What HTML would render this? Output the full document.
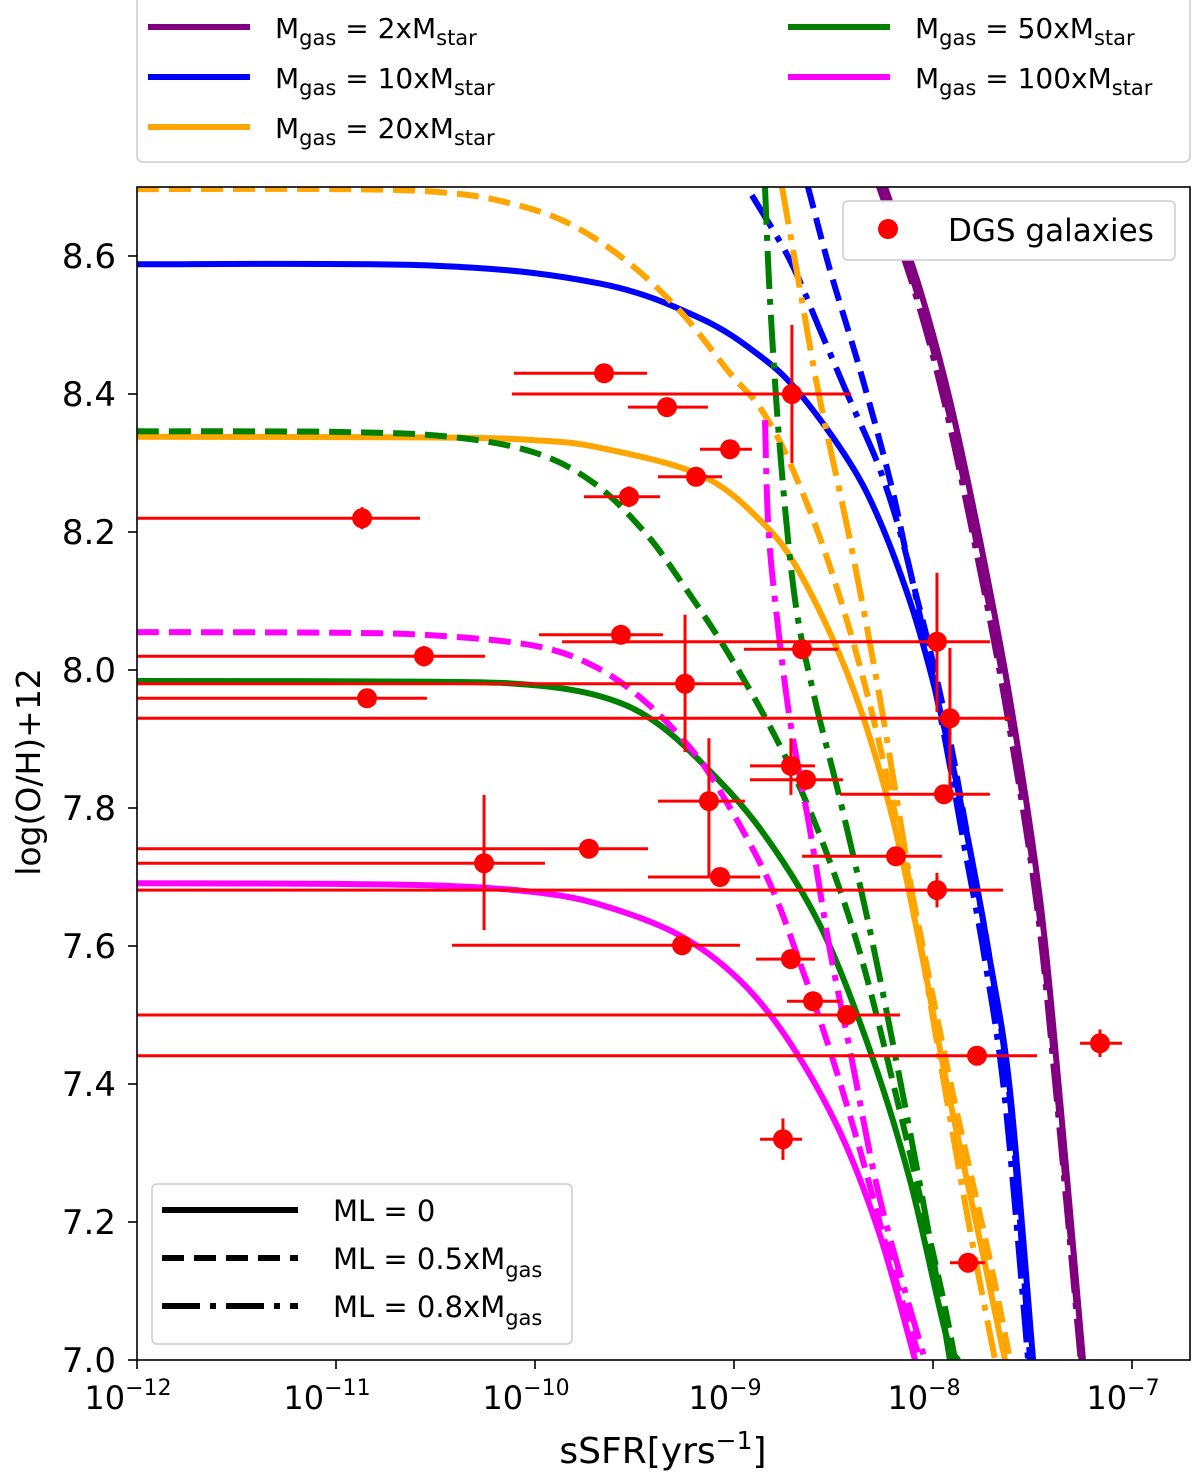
<!DOCTYPE html>
<html><head><meta charset="utf-8">
<style>
html,body{margin:0;padding:0;background:#fff;}
svg{display:block;font-family:"DejaVu Sans","Liberation Sans",sans-serif;}
</style></head>
<body>
<svg id="chart" width="1200" height="1480" viewBox="0 0 1200 1480">
<defs><clipPath id="plotclip"><rect x="137" y="187" width="1053" height="1173"/></clipPath></defs>
<g id="curves" clip-path="url(#plotclip)"></g>
<g id="points" clip-path="url(#plotclip)"></g>
<rect x="137" y="187" width="1053" height="1173" fill="none" stroke="#000" stroke-width="1.6"/>
<g id="axes"></g>
<text x="663" y="1463" text-anchor="middle" font-size="36">sSFR[yrs<tspan dy="-14" font-size="25">−1</tspan><tspan dy="14">]</tspan></text>
<text transform="translate(40,772) rotate(-90)" text-anchor="middle" font-size="33">log(O/H)+12</text>

<g>
<rect x="137" y="-6" width="1053" height="168" rx="6" fill="#fff" stroke="#ccc" stroke-width="1.5"/>
<line x1="148" y1="27" x2="250" y2="27" stroke="#800080" stroke-width="6"/>
<text x="275" y="38" font-size="28">M<tspan font-size="21" dy="7">gas</tspan><tspan dy="-7"> = 2xM</tspan><tspan font-size="21" dy="7">star</tspan></text>
<line x1="148" y1="77" x2="250" y2="77" stroke="#0000ff" stroke-width="6"/>
<text x="275" y="88" font-size="28">M<tspan font-size="21" dy="7">gas</tspan><tspan dy="-7"> = 10xM</tspan><tspan font-size="21" dy="7">star</tspan></text>
<line x1="148" y1="127" x2="250" y2="127" stroke="#ffa500" stroke-width="6"/>
<text x="275" y="138" font-size="28">M<tspan font-size="21" dy="7">gas</tspan><tspan dy="-7"> = 20xM</tspan><tspan font-size="21" dy="7">star</tspan></text>
<line x1="788" y1="27" x2="890" y2="27" stroke="#008000" stroke-width="6"/>
<text x="915" y="38" font-size="28">M<tspan font-size="21" dy="7">gas</tspan><tspan dy="-7"> = 50xM</tspan><tspan font-size="21" dy="7">star</tspan></text>
<line x1="788" y1="77" x2="890" y2="77" stroke="#ff00ff" stroke-width="6"/>
<text x="915" y="88" font-size="28">M<tspan font-size="21" dy="7">gas</tspan><tspan dy="-7"> = 100xM</tspan><tspan font-size="21" dy="7">star</tspan></text>
</g>

<g>
<rect x="843" y="201" width="332" height="59" rx="5" fill="#fff" stroke="#ccc" stroke-width="1.5"/>
<circle cx="888" cy="229" r="10" fill="#ff0000"/>
<text x="948" y="241" font-size="31">DGS galaxies</text>
</g>

<g>
<rect x="152" y="1184" width="420" height="160" rx="5" fill="#fff" stroke="#ccc" stroke-width="1.5"/>
<line x1="162" y1="1210" x2="298" y2="1210" stroke="#000" stroke-width="6"/>
<text x="333" y="1221" font-size="29">ML = 0</text>
<line x1="162" y1="1258" x2="298" y2="1258" stroke="#000" stroke-width="6" stroke-dasharray="22,10"/>
<text x="333" y="1269" font-size="29">ML = 0.5xM<tspan font-size="21" dy="8">gas</tspan></text>
<line x1="162" y1="1306" x2="298" y2="1306" stroke="#000" stroke-width="6" stroke-dasharray="38,10,6,10"/>
<text x="333" y="1317" font-size="29">ML = 0.8xM<tspan font-size="21" dy="8">gas</tspan></text>
</g>
</svg>
<script>
// ---- data: x values are log10(sSFR), y values are log(O/H)+12 ----
const xTicks = [-12, -11, -10, -9, -8, -7];
const yTicks = [7.0, 7.2, 7.4, 7.6, 7.8, 8.0, 8.2, 8.4, 8.6];
const curveNames = ["purple-solid","purple-dash","purple-dashdot","blue-solid","blue-dash","blue-dashdot","orange-solid","orange-dash","orange-dashdot","green-solid","green-dash","green-dashdot","magenta-solid","magenta-dash","magenta-dashdot"];
const purpleSolid = [[-8.241,8.70],[-8.065,8.551],[-7.915,8.391],[-7.764,8.188],[-7.613,7.957],[-7.462,7.667],[-7.362,7.377],[-7.246,7.0]];
const purpleDash = [[-8.261,8.70],[-8.085,8.551],[-7.935,8.391],[-7.784,8.188],[-7.630,7.957],[-7.475,7.667],[-7.372,7.377],[-7.254,7.0]];
const purpleDashDot = [[-8.271,8.70],[-8.095,8.551],[-7.945,8.391],[-7.794,8.188],[-7.640,7.957],[-7.482,7.667],[-7.378,7.377],[-7.258,7.0]];
const blueSolid = [[-12,8.588],[-10.5,8.586],[-9.673,8.560],[-9.171,8.51],[-8.869,8.455],[-8.668,8.400],[-8.417,8.30],[-8.266,8.215],[-8.116,8.10],[-8.015,8.00],[-7.915,7.88],[-7.814,7.74],[-7.714,7.58],[-7.613,7.39],[-7.497,7.0]];
const blueDash = [[-8.628,8.70],[-8.518,8.580],[-8.367,8.435],[-8.216,8.275],[-8.116,8.145],[-8.015,8.029],[-7.915,7.899],[-7.814,7.739],[-7.714,7.580],[-7.613,7.377],[-7.512,7.0]];
const blueDashDot = [[-8.910,8.688],[-8.719,8.594],[-8.568,8.493],[-8.417,8.391],[-8.266,8.290],[-8.141,8.174],[-8.040,8.043],[-7.940,7.90],[-7.839,7.739],[-7.739,7.580],[-7.638,7.377],[-7.522,7.0]];
const orangeSolid = [[-12,8.338],[-10.5,8.337],[-10.0,8.333],[-9.673,8.322],[-9.171,8.283],[-8.869,8.217],[-8.668,8.140],[-8.417,7.985],[-8.216,7.80],[-8.065,7.60],[-7.915,7.377],[-7.739,7.14],[-7.638,7.0]];
const orangeDash = [[-12,8.697],[-11,8.697],[-10.5,8.693],[-10.176,8.680],[-9.85,8.650],[-9.55,8.595],[-9.271,8.520],[-9.020,8.430],[-8.869,8.380],[-8.719,8.300],[-8.518,8.150],[-8.317,7.950],[-8.116,7.690],[-7.915,7.406],[-7.714,7.145],[-7.613,7.0]];
const orangeDashDot = [[-8.759,8.70],[-8.668,8.551],[-8.568,8.391],[-8.417,8.188],[-8.266,7.957],[-8.116,7.696],[-7.965,7.435],[-7.814,7.188],[-7.688,7.0]];
const greenSolid = [[-12,7.984],[-10.5,7.983],[-10.0,7.978],[-9.673,7.962],[-9.422,7.930],[-9.171,7.868],[-8.869,7.770],[-8.568,7.630],[-8.317,7.449],[-8.116,7.261],[-7.940,7.043],[-7.874,7.0]];
const greenDash = [[-12,8.346],[-11,8.345],[-10.427,8.338],[-10.0,8.315],[-9.7,8.270],[-9.45,8.200],[-9.271,8.130],[-9.020,8.020],[-8.769,7.890],[-8.568,7.760],[-8.367,7.590],[-8.166,7.360],[-7.965,7.110],[-7.889,7.0]];
const greenDashDot = [[-8.844,8.70],[-8.819,8.536],[-8.769,8.319],[-8.693,8.101],[-8.593,7.957],[-8.467,7.812],[-8.317,7.623],[-8.166,7.406],[-8.015,7.174],[-7.915,7.0]];
const magentaSolid = [[-12,7.691],[-11,7.690],[-10.427,7.687],[-10.0,7.678],[-9.673,7.660],[-9.271,7.615],[-8.970,7.550],[-8.719,7.460],[-8.467,7.330],[-8.266,7.180],[-8.090,7.0]];
const magentaDash = [[-12,8.055],[-11,8.054],[-10.5,8.050],[-10.0,8.035],[-9.700,8.005],[-9.450,7.955],[-9.200,7.880],[-9.020,7.800],[-8.819,7.690],[-8.668,7.575],[-8.518,7.449],[-8.367,7.304],[-8.216,7.145],[-8.065,7.0]];
const magentaDashDot = [[-8.844,8.362],[-8.829,8.217],[-8.794,8.101],[-8.719,7.928],[-8.618,7.768],[-8.518,7.594],[-8.417,7.449],[-8.266,7.232],[-8.040,7.0]];
// DGS galaxies: log sSFR, x error low/high (log), logOH, y error low/high
const dgsX = [-9.653,-8.709,-9.337,-9.020,-9.191,-9.528,-10.869,-9.568,-7.980,-8.658,-10.558,-9.246,-10.844,-7.915,-8.714,-8.638,-9.126,-7.945,-9.729,-10.256,-8.186,-9.070,-7.980,-9.261,-8.714,-8.603,-8.432,-7.779,-7.161,-8.754,-7.824];
const dgsXlo = [-10.106,-10.116,-9.533,-9.171,-9.382,-9.754,-12.5,-9.980,-9.864,-8.950,-12.5,-12.5,-12.5,-12.5,-8.920,-8.920,-9.382,-8.467,-12.5,-12.5,-8.658,-9.432,-12.5,-10.417,-8.889,-8.734,-12.5,-12.5,-7.261,-8.869,-7.915];
const dgsXhi = [-9.437,-8.412,-9.131,-8.910,-9.060,-9.372,-10.578,-9.357,-7.714,-8.477,-10.251,-8.945,-10.543,-7.613,-8.593,-8.452,-8.945,-7.714,-9.432,-9.950,-7.955,-8.869,-7.648,-8.970,-8.593,-8.467,-8.166,-7.477,-7.050,-8.658,-7.739];
const dgsY = [8.430,8.400,8.381,8.320,8.280,8.251,8.220,8.051,8.041,8.030,8.020,7.980,7.959,7.930,7.861,7.841,7.810,7.820,7.741,7.720,7.730,7.700,7.681,7.601,7.581,7.520,7.500,7.441,7.459,7.320,7.141];
const dgsYlo = [8.430,8.300,8.381,8.320,8.280,8.236,8.204,8.051,7.939,8.030,8.005,7.881,7.959,7.819,7.819,7.841,7.699,7.820,7.741,7.623,7.730,7.700,7.656,7.601,7.581,7.520,7.500,7.441,7.439,7.290,7.141];
const dgsYhi = [8.430,8.500,8.381,8.320,8.280,8.266,8.236,8.051,8.141,8.030,8.035,8.080,7.959,8.032,7.901,7.841,7.901,7.820,7.741,7.819,7.730,7.700,7.706,7.601,7.581,7.520,7.500,7.441,7.479,7.350,7.141];

// ---- axis functions ----
const X0 = 137, PX_PER_DEC = 199, Y0 = 1360, PX_PER_UNIT = 690;
function sx(lx){ return X0 + (lx + 12) * PX_PER_DEC; }
function sy(v){ return Y0 - (v - 7.0) * PX_PER_UNIT; }
const NS = "http://www.w3.org/2000/svg";
function mk(tag, attrs){ const e = document.createElementNS(NS, tag); for (const k in attrs) e.setAttribute(k, attrs[k]); return e; }
function smoothPath(pts){
  const p = pts.map(q => [sx(q[0]), sy(q[1])]);
  let d = "M" + p[0][0].toFixed(1) + "," + p[0][1].toFixed(1);
  for (let i = 0; i < p.length - 1; i++) {
    const a = p[Math.max(i-1,0)], b = p[i], c = p[i+1], e = p[Math.min(i+2,p.length-1)];
    const c1x = b[0] + (c[0]-a[0])/6, c1y = b[1] + (c[1]-a[1])/6;
    const c2x = c[0] - (e[0]-b[0])/6, c2y = c[1] - (e[1]-b[1])/6;
    d += " C" + c1x.toFixed(1) + "," + c1y.toFixed(1) + " " + c2x.toFixed(1) + "," + c2y.toFixed(1) + " " + c[0].toFixed(1) + "," + c[1].toFixed(1);
  }
  return d;
}

const curveData = [purpleSolid,purpleDash,purpleDashDot,blueSolid,blueDash,blueDashDot,orangeSolid,orangeDash,orangeDashDot,greenSolid,greenDash,greenDashDot,magentaSolid,magentaDash,magentaDashDot];
const colors = ["#800080","#0000ff","#ffa500","#008000","#ff00ff"];
const dashes = ["none","22,10","38,10,6,10"];
const cg = document.getElementById("curves");
curveData.forEach((pts, i) => {
  const path = mk("path", {d: smoothPath(pts), fill: "none", stroke: colors[Math.floor(i/3)], "stroke-width": 6, "stroke-dasharray": dashes[i%3]});
  
  
  cg.appendChild(path);
});

const pg = document.getElementById("points");
dgsX.forEach((x, i) => {
  const g = mk("g", {});
  
  
  g.appendChild(mk("line", {x1: sx(dgsXlo[i]), x2: sx(dgsXhi[i]), y1: sy(dgsY[i]), y2: sy(dgsY[i]), stroke: "#ff0000", "stroke-width": 3}));
  if (dgsYhi[i] !== dgsYlo[i]) g.appendChild(mk("line", {x1: sx(x), x2: sx(x), y1: sy(dgsYlo[i]), y2: sy(dgsYhi[i]), stroke: "#ff0000", "stroke-width": 3}));
  g.appendChild(mk("circle", {cx: sx(x), cy: sy(dgsY[i]), r: 10, fill: "#ff0000"}));
  pg.appendChild(g);
});

const ag = document.getElementById("axes");
xTicks.forEach(t => {
  const x = sx(t);
  const tk = mk("line", {x1: x, x2: x, y1: 1360, y2: 1369, stroke: "#000", "stroke-width": 1.6});
  
  
  ag.appendChild(tk);
  const tx = mk("text", {x: x - 9, y: 1409, "text-anchor": "middle", "font-size": 32});
  tx.innerHTML = '10<tspan dy="-14" font-size="22">−' + Math.abs(t) + '</tspan>';
  
  
  ag.appendChild(tx);
});
yTicks.forEach(t => {
  const y = sy(t);
  const tk = mk("line", {x1: 128, x2: 137, y1: y, y2: y, stroke: "#000", "stroke-width": 1.6});
  
  
  ag.appendChild(tk);
  const tx = mk("text", {x: 116, y: y + 12, "text-anchor": "end", "font-size": 34});
  tx.textContent = t.toFixed(1);
  
  
  ag.appendChild(tx);
});
</script>
</body></html>
